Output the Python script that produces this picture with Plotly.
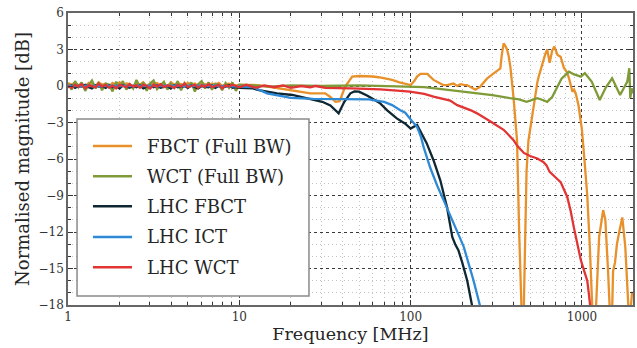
import plotly.graph_objects as go

# ---------------- data ----------------
F_LOW = [1.00, 1.05, 1.10, 1.15, 1.20, 1.26, 1.32, 1.38, 1.45, 1.51, 1.58, 1.66, 1.74,
         1.82, 1.91, 2.00, 2.09, 2.19, 2.29, 2.40, 2.51, 2.63, 2.75, 2.88, 3.02, 3.16,
         3.31, 3.47, 3.63, 3.80, 3.98, 4.17, 4.37, 4.57, 4.79, 5.01, 5.25, 5.50, 5.75,
         6.03, 6.31, 6.61, 6.92, 7.24, 7.59, 7.94, 8.32, 8.71, 9.12, 9.55, 10.0]

fbct_full_low = [0.25, 0.1, 0.3, 0.05, 0.2, -0.05, 0.25, 0.15, 0.0, 0.3, 0.1, 0.2, -0.05,
                 0.25, 0.1, 0.3, 0.05, 0.2, 0.15, -0.05, 0.25, 0.1, 0.3, 0.0, 0.2, 0.15,
                 0.25, 0.05, 0.2, -0.05, 0.3, 0.1, 0.2, 0.15, 0.05, 0.25, 0.1, 0.2, 0.0,
                 0.25, 0.15, 0.05, 0.2, 0.1, 0.25, 0.0, 0.15, 0.2, 0.1, 0.05, 0.1]
fbct_full_f = [12, 14, 17, 20, 23, 26, 31.7, 34, 36.4, 38.5, 41.5, 45.6, 50, 54.5, 60, 65,
               72, 78, 86, 93, 100, 105, 109, 114, 125, 136, 145, 155, 165, 178, 187, 195,
               205, 213, 225, 239, 255, 267, 279, 300, 325, 334, 340, 349, 357, 365, 373,
               382, 399, 418, 430, 440, 452, 458, 466, 475, 487, 505, 524, 549, 559, 589,
               610, 627, 640, 648, 670, 690, 720, 751, 784, 820, 840, 860, 880, 900, 920,
               955, 1000, 1040, 1074, 1110, 1140, 1170, 1210, 1260, 1330, 1370, 1420, 1460,
               1500, 1520, 1560, 1600, 1650, 1720, 1790, 1840, 1880, 1920, 1960, 1990]
fbct_full_v = [0.1, 0.0, -0.2, -0.33, -0.5, -0.6, -0.6, -0.9, -1.3, -1.25, -0.05, 0.77, 0.82,
               0.82, 0.78, 0.72, 0.6, 0.5, 0.3, 0.16, 0.08, 0.4, 0.77, 1.0, 1.0, 0.5, 0.3,
               0.08, 0.1, 0.2, 0.0, 0.15, 0.1, 0.08, -0.1, -0.3, -0.05, 0.3, 0.6, 0.95, 1.3,
               1.45, 2.5, 3.5, 3.3, 3.0, 2.5, 1.6, -1.0, -4.5, -12, -22, -22, -18, -13.8, -7,
               -4.5, -3.0, -1.8, 0.3, 0.77, 2.0, 2.6, 3.0, 2.3, 1.9, 2.9, 3.24, 2.55, 2.4,
               1.5, 1.1, 0.63, 0.0, -0.47, -0.3, -0.6, -1.6, -3.6, -6.5, -9, -13, -18, -21,
               -18, -12.4, -10.2, -11, -15.2, -19, -18.5, -15.2, -14.5, -13, -12, -10.8,
               -13.2, -16, -19, -18.5, -17, -17]

wct_full_low = [0.2, -0.3, 0.4, -0.1, 0.3, -0.4, 0.1, 0.45, -0.2, 0.3, -0.35, 0.2, 0.1,
                -0.45, 0.35, -0.1, 0.4, -0.3, 0.15, -0.2, 0.5, -0.1, 0.3, -0.4, 0.2, 0.45,
                -0.25, 0.1, 0.35, -0.3, 0.2, -0.15, 0.4, -0.35, 0.25, -0.1, 0.3, -0.45, 0.15,
                0.4, -0.2, 0.3, -0.3, 0.2, 0.1, -0.35, 0.25, -0.15, 0.3, -0.4, 0.1]
wct_full_f = [12, 15, 20, 30, 50, 70, 87, 120, 170, 244, 300, 380, 430, 475, 549, 590, 627,
              670, 713, 760, 840, 900, 985, 1040, 1140, 1270, 1380, 1500, 1670, 1760, 1840,
              1890, 1915, 1950, 1990]
wct_full_v = [0.05, -0.05, 0.05, 0.0, 0.05, 0.0, 0.0, -0.1, -0.33, -0.6, -0.75, -1.0, -1.1,
              -1.3, -1.0, -1.15, -1.3, -0.9, -0.2, 0.6, 1.18, 0.95, 0.77, 1.05, 0.36, -1.15,
              -0.1, 0.63, -0.74, -0.1, 0.36, 1.46, -1.0, -0.2, -0.6]

lhc_fbct_low = [-0.1, 0.05, -0.15, 0.0, -0.05, 0.1, -0.1, -0.2, 0.05, -0.05, 0.0, -0.15, 0.05,
                -0.1, 0.0, -0.2, 0.05, -0.05, -0.15, 0.0, -0.1, 0.05, -0.2, -0.05, 0.0, -0.1,
                0.05, -0.15, -0.05, 0.0, -0.2, 0.05, -0.1, -0.05, 0.0, -0.15, 0.05, -0.1, -0.2,
                0.0, -0.05, -0.1, 0.05, -0.15, 0.0, -0.1, -0.05, 0.05, -0.15, -0.1, -0.15]
lhc_fbct_f = [12, 13, 16.6, 20.4, 25, 30.5, 34, 38, 41, 44.5, 47, 50, 56, 66, 73, 83, 93, 100,
              109, 115, 124, 136, 149, 163, 175, 182, 190, 200, 214, 228, 235]
lhc_fbct_v = [-0.2, -0.33, -0.6, -0.74, -1.0, -1.3, -1.6, -2.25, -1.3, -0.6, -0.45, -0.47,
              -0.8, -1.4, -2.0, -2.66, -3.1, -3.5, -3.2, -3.8, -4.7, -6.1, -7.75, -9.95,
              -12.4, -13.0, -13.5, -14.5, -16, -18, -19]

lhc_ict_f = [1, 2, 4, 7, 10, 12.1, 14.5, 18, 20, 27, 40, 57, 70, 78, 87, 93, 102, 109, 115,
             119, 130, 143, 156, 178, 204, 233, 255, 262]
lhc_ict_v = [0.0, 0.02, 0.0, 0.02, -0.05, -0.1, -0.6, -0.88, -0.97, -1.05, -1.05, -1.1, -1.3,
             -1.57, -2.0, -2.2, -2.9, -3.35, -4.2, -5.0, -6.7, -8.2, -9.4, -11.3, -13.2, -16,
             -18, -18.8]

lhc_wct_low = [0.0, -0.15, 0.1, -0.05, 0.15, -0.2, 0.05, 0.0, -0.1, 0.2, -0.05, 0.1, -0.15,
               0.05, -0.2, 0.1, 0.0, -0.1, 0.15, -0.05, 0.05, -0.15, 0.1, 0.0, -0.2, 0.1,
               -0.05, 0.15, -0.1, 0.05, 0.0, -0.15, 0.1, -0.05, 0.2, -0.1, 0.0, 0.1, -0.15,
               0.05, -0.05, 0.15, -0.1, 0.0, 0.1, -0.2, 0.05, -0.05, 0.1, 0.0, -0.1]
lhc_wct_f = [11, 12.5, 14, 16, 18, 20, 23, 26, 28, 31.8, 45, 66.5, 87, 99, 120, 136, 170, 187,
             225, 244, 291, 349, 399, 418, 458, 498, 549, 595, 620, 648, 700, 751, 820, 860,
             896, 940, 985, 1030, 1074, 1100, 1125]
lhc_wct_v = [0.1, -0.15, 0.05, -0.1, 0.05, -0.15, 0.0, -0.1, 0.0, -0.15, -0.2, -0.27, -0.4,
             -0.47, -0.65, -0.88, -1.2, -1.57, -2.0, -2.25, -2.9, -3.6, -4.45, -4.9, -5.5,
             -5.75, -5.96, -6.24, -6.5, -7.06, -7.5, -7.9, -9.1, -10.3, -11.6, -13, -14.3,
             -15.2, -16, -17.2, -18.5]

NAMES = ["FBCT (Full BW)", "WCT (Full BW)", "LHC FBCT", "LHC ICT", "LHC WCT"]
COLORS = ["#E8912B", "#7F9B38", "#0D2733", "#2F8AD6", "#E23434"]

X_TICKS = [1, 10, 100, 1000]
X_MINOR = [2, 3, 4, 5, 6, 7, 8, 9, 20, 30, 40, 50, 60, 70, 80, 90,
           200, 300, 400, 500, 600, 700, 800, 900]

series = [
    (F_LOW + fbct_full_f, fbct_full_low + fbct_full_v),
    (F_LOW + wct_full_f, wct_full_low + wct_full_v),
    (F_LOW + lhc_fbct_f, lhc_fbct_low + lhc_fbct_v),
    (lhc_ict_f, lhc_ict_v),
    (F_LOW + lhc_wct_f, lhc_wct_low + lhc_wct_v),
]

FONT = "DejaVu Serif"

fig = go.Figure()
for (fx, fy), name, col in zip(series, NAMES, COLORS):
    fig.add_trace(go.Scatter(x=fx, y=fy, mode="lines", name=name,
                             line=dict(color=col, width=2.3), showlegend=False))

# custom legend box (matches the reference's spacing)
fig.add_shape(type="rect", xref="paper", yref="paper", x0=0.016, x1=0.4265, y0=0.031, y1=0.637,
              fillcolor="white", line=dict(color="#8a8a8a", width=1.5), layer="above")
leg_y = [0.5445, 0.4408, 0.3380, 0.2329, 0.1291]
for name, col, yy in zip(NAMES, COLORS, leg_y):
    fig.add_shape(type="line", xref="paper", yref="paper", x0=0.0442, x1=0.1133, y0=yy, y1=yy,
                  line=dict(color=col, width=2.5), layer="above")
    fig.add_annotation(xref="paper", yref="paper", x=0.136, y=yy, text=name, showarrow=False,
                       xanchor="left", yanchor="middle",
                       font=dict(family=FONT, size=18, color="#262626"))

axis_common = dict(showline=True, linecolor="#666666", linewidth=1.5, mirror="allticks",
                   ticks="inside", ticklen=5, tickcolor="#333333",
                   showgrid=True, gridcolor="#3a3a3a", gridwidth=0.8, griddash="3px,3px",
                   tickfont=dict(family=FONT, size=12, color="#333333"),
                   zeroline=False, automargin=False)

fig.update_xaxes(type="log", range=[0, 3.298], tickvals=X_TICKS,
                 ticktext=[str(v) for v in X_TICKS],
                 title=dict(text="Frequency [MHz]", font=dict(family=FONT, size=17.5, color="#262626"),
                            standoff=2),
                 minor=dict(tickvals=X_MINOR, ticks="inside", ticklen=3, tickcolor="#333333",
                            showgrid=True, gridcolor="#c4c4c4", griddash="1px,3px", gridwidth=1),
                 **axis_common)
fig.update_yaxes(range=[-18, 6], tick0=0, dtick=3,
                 title=dict(text="Normalised magnitude [dB]",
                            font=dict(family=FONT, size=18, color="#262626"), standoff=4),
                 minor=dict(dtick=1, ticks="inside", ticklen=3, tickcolor="#333333",
                            showgrid=True, gridcolor="#c4c4c4", griddash="1px,3px", gridwidth=1),
                 **axis_common)

fig.update_layout(width=637, height=348, margin=dict(l=68, r=4, t=13, b=43),
                  paper_bgcolor="white", plot_bgcolor="white",
                  font=dict(family=FONT, color="#262626"), showlegend=False)

fig.write_html("out.html", config={"displayModeBar": False},
               post_script="document.body.style.margin='0';document.body.style.overflow='hidden';")
